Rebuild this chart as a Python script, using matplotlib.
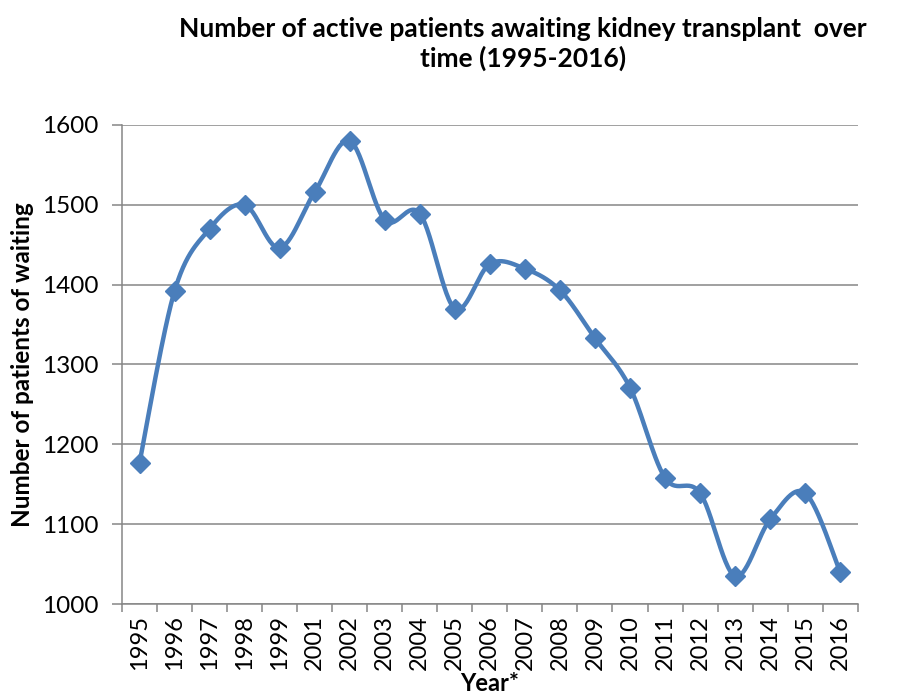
import numpy as np
import matplotlib.pyplot as plt

# Data (2000 is missing in the original)
years = ["1995", "1996", "1997", "1998", "1999", "2001", "2002", "2003", "2004", "2005", "2006",
         "2007", "2008", "2009", "2010", "2011", "2012", "2013", "2014", "2015", "2016"]
patients = [1177, 1392, 1470, 1500, 1446, 1516, 1580, 1481, 1489, 1370, 1426,
            1420, 1393, 1333, 1271, 1158, 1139, 1035, 1106, 1139, 1040]

plt.rcParams['font.family'] = ['Lato', 'DejaVu Sans']


def smooth_curve(x, y, n=30):
    """Catmull-Rom spline through the points, similar to Excel's smoothed line"""
    x = np.asarray(x, dtype=float)
    y = np.asarray(y, dtype=float)
    px = np.concatenate([[x[0]], x, [x[-1]]])
    py = np.concatenate([[y[0]], y, [y[-1]]])
    xs, ys = [], []
    t = np.linspace(0, 1, n)
    for i in range(1, len(px) - 2):
        p0x, p1x, p2x, p3x = px[i - 1], px[i], px[i + 1], px[i + 2]
        p0y, p1y, p2y, p3y = py[i - 1], py[i], py[i + 1], py[i + 2]
        # bezier control points
        c1x, c1y = p1x + (p2x - p0x) / 6, p1y + (p2y - p0y) / 6
        c2x, c2y = p2x - (p3x - p1x) / 6, p2y - (p3y - p1y) / 6
        bx = (1 - t) ** 3 * p1x + 3 * (1 - t) ** 2 * t * c1x + 3 * (1 - t) * t ** 2 * c2x + t ** 3 * p2x
        by = (1 - t) ** 3 * p1y + 3 * (1 - t) ** 2 * t * c1y + 3 * (1 - t) * t ** 2 * c2y + t ** 3 * p2y
        xs.extend(bx)
        ys.extend(by)
    return np.array(xs), np.array(ys)


fig = plt.figure(figsize=(9.01, 6.97), dpi=100)
ax = fig.add_axes([0.1354, 0.1334, 0.8166, 0.6873])

idx = np.arange(len(years))
sx, sy = smooth_curve(idx, patients)
ax.plot(sx, sy, color="#4A7EBB", linewidth=3.2, solid_capstyle="round", zorder=3)
ax.plot(idx, patients, linestyle="none", marker="D", markersize=10.5,
        color="#4A7EBB", zorder=4)

ax.set_xlim(-0.5, len(years) - 0.5)
ax.set_ylim(1000, 1600)
ax.set_yticks(np.arange(1000, 1601, 100))
ax.grid(axis="y", color="#868686", linewidth=1.1)
ax.set_axisbelow(True)

ax.set_xticks(idx)
ax.set_xticklabels(years, rotation=90, fontsize=17)
ax.set_xticks(np.arange(-0.5, len(years), 1), minor=True)
ax.tick_params(axis="x", which="major", length=0, pad=8)
ax.tick_params(axis="x", which="minor", length=6, color="#868686", width=1.1)
ax.tick_params(axis="y", length=7, color="#868686", width=1.1, labelsize=17.5, pad=10)

for s in ["top", "right"]:
    ax.spines[s].set_visible(False)
for s in ["left", "bottom"]:
    ax.spines[s].set_color("#868686")
    ax.spines[s].set_linewidth(1.1)

ax.set_xlabel("Year*", fontsize=17, fontweight="bold", labelpad=1)
ax.set_ylabel("Number of patients of waiting", fontsize=17.5, fontweight="bold", labelpad=6)
fig.text(0.58, 0.937, "Number of active patients awaiting kidney transplant  over\ntime (1995-2016)",
         ha="center", va="center", fontsize=19, fontweight="bold", linespacing=1.22)

fig.savefig("out.png", dpi=100)
